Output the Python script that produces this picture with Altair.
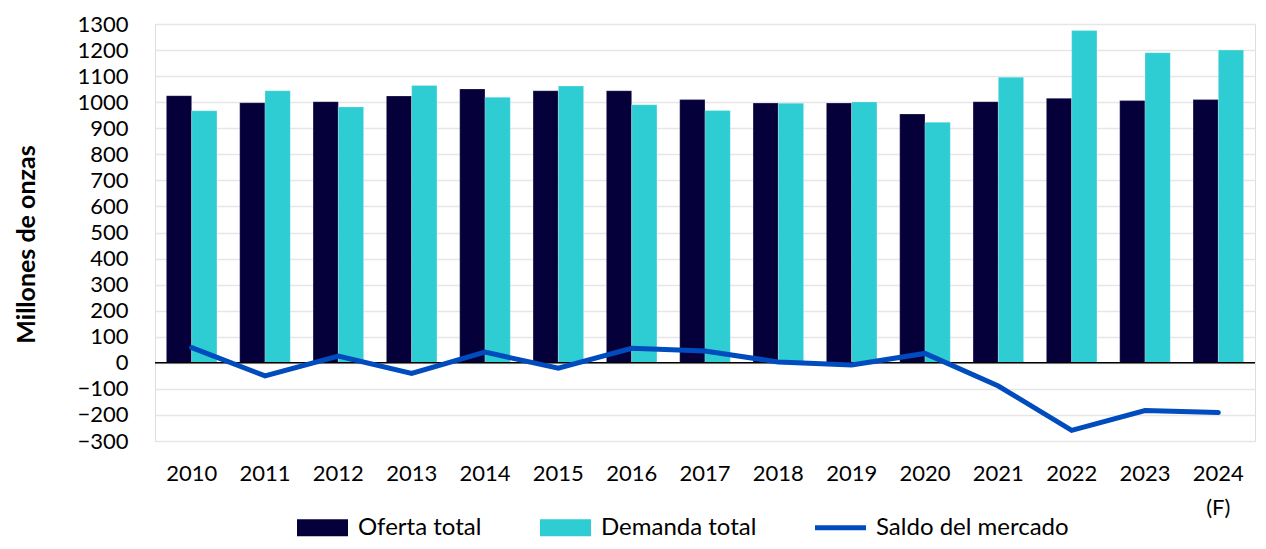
import altair as alt
import pandas as pd

years = [str(y) for y in range(2010, 2025)]
oferta = [1025, 998, 1002, 1024, 1051, 1044, 1044, 1010, 997, 997, 955, 1002, 1015, 1006, 1010]
demanda = [967, 1044, 982, 1064, 1019, 1062, 990, 968, 996, 1001, 923, 1096, 1275, 1190, 1200]
saldo = [58, -50, 26, -41, 41, -21, 56, 45, 3, -8, 36, -89, -259, -183, -191]
series = ["Oferta total", "Demanda total", "Saldo del mercado"]
colors = ["#05003A", "#2ECCD3", "#004BBE"]
y_ticks = list(range(-300, 1301, 100))

rows = []
for i, y in enumerate(years):
    rows.append({"anio": y, "serie": series[0], "valor": oferta[i]})
    rows.append({"anio": y, "serie": series[1], "valor": demanda[i]})
    rows.append({"anio": y, "serie": series[2], "valor": saldo[i]})
df = pd.DataFrame(rows)

FONT = "Lato"
FS = 22

color = alt.Color(
    "serie:N",
    scale=alt.Scale(domain=series, range=colors),
    legend=alt.Legend(
        title=None,
        orient="none",
        legendX=142,
        legendY=478,
        direction="horizontal",
        symbolSize=2601,
        symbolType={"expr": "datum.value === 'Saldo del mercado' ? 'M-1,-0.1H1V0.1H-1Z' : 'M-1,-0.333H1V0.333H-1Z'"},
        symbolStrokeWidth=0,
        symbolOpacity=1,
        labelFontSize=24,
        labelFont=FONT,
        labelColor="#000000",
        labelOffset=10,
        labelLimit=400,
        columnPadding=58,
    ),
)

x = alt.X(
    "anio:N",
    sort=years,
    title=None,
    scale=alt.Scale(paddingInner=0.31, paddingOuter=0.155),
    axis=alt.Axis(
        labelAngle=0,
        labelFontSize=FS,
        labelFont=FONT,
        labelColor="#000000",
        labelPadding=22,
        ticks=False,
        domain=False,
        labelExpr="datum.value == '2024' ? ['2024', '(F)'] : datum.value",
        labelLineHeight=34,
    ),
)

y = alt.Y(
    "valor:Q",
    title="Millones de onzas",
    scale=alt.Scale(domain=[-300, 1300], nice=False),
    axis=alt.Axis(
        values=y_ticks,
        format="d",
        labelOverlap=False,
        labelFontSize=FS,
        labelFont=FONT,
        labelColor="#000000",
        labelPadding=27,
        ticks=False,
        domain=False,
        grid=True,
        gridColor="#E6E6E6",
        gridWidth=1.5,
        titleFontSize=25,
        titleFont=FONT,
        titleFontWeight="bold",
        titleColor="#000000",
        titleAngle=-90,
        titleX=-129,
        titleY=220,
        titleAlign="center",
        titleBaseline="middle",
    ),
)

bars = alt.Chart(df).transform_filter(
    alt.FieldOneOfPredicate(field="serie", oneOf=series[:2])
).mark_bar(stroke="#FFFFFF", strokeWidth=0.5, strokeOpacity=0.5).encode(
    x=x,
    xOffset=alt.XOffset("serie:N", sort=series[:2], scale=alt.Scale(paddingInner=0, paddingOuter=0)),
    y=y,
    color=color,
)

zero = alt.Chart(pd.DataFrame({"valor": [0]})).mark_rule(color="#000000", strokeWidth=1.5).encode(
    y=y
)

line = alt.Chart(df).transform_filter(
    alt.FieldEqualPredicate(field="serie", equal=series[2])
).mark_line(strokeWidth=5, strokeCap="round", strokeJoin="miter").encode(
    x=x,
    y=y,
    color=color,
)

chart = alt.layer(bars, zero, line).properties(
    width=1100,
    height=417,
    autosize=alt.AutoSizeParams(type="none"),
    padding={"left": 147, "top": 16, "right": 2, "bottom": 100},
).configure_view(strokeWidth=0, stroke="transparent").configure(font=FONT)

chart.save("out.html", embed_options={"renderer": "svg", "actions": False})
